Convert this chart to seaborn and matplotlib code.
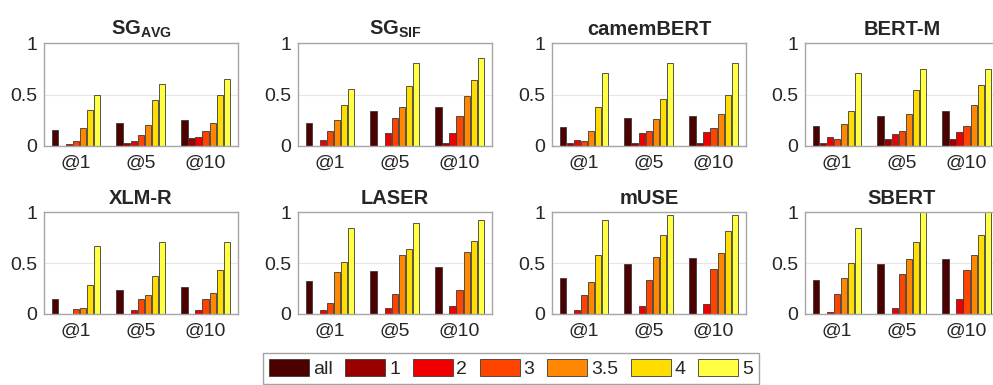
import matplotlib
matplotlib.use("Agg")
import matplotlib.pyplot as plt
import seaborn as sns
import pandas as pd
import numpy as np
from matplotlib.patches import Patch

# ---------------- data ----------------
ks = ["@1", "@5", "@10"]
cats = ["all", "1", "2", "3", "3.5", "4", "5"]
colors = ["#4c0000", "#990000", "#ee0000", "#ff4400", "#ff8800", "#ffdd00", "#ffff44"]
titles = [r"$\mathbf{SG}_{\mathbf{AVG}}$", r"$\mathbf{SG}_{\mathbf{SIF}}$", "camemBERT", "BERT-M",
          "XLM-R", "LASER", "mUSE", "SBERT"]

# values per model: rows = @1, @5, @10 ; columns = all,1,2,3,3.5,4,5
sg_avg = [[0.16, 0.00, 0.02, 0.05, 0.17, 0.35, 0.50],
          [0.22, 0.03, 0.045, 0.11, 0.20, 0.45, 0.60],
          [0.25, 0.075, 0.09, 0.15, 0.22, 0.50, 0.655]]
sg_sif = [[0.22, 0.00, 0.06, 0.15, 0.25, 0.40, 0.55],
          [0.34, 0.00, 0.13, 0.27, 0.38, 0.58, 0.81],
          [0.38, 0.03, 0.13, 0.29, 0.49, 0.64, 0.85]]
camembert = [[0.18, 0.03, 0.06, 0.05, 0.15, 0.38, 0.71],
             [0.27, 0.03, 0.13, 0.15, 0.26, 0.46, 0.81],
             [0.29, 0.03, 0.14, 0.17, 0.31, 0.50, 0.81]]
bert_m = [[0.19, 0.03, 0.085, 0.065, 0.21, 0.34, 0.71],
          [0.29, 0.07, 0.12, 0.15, 0.31, 0.54, 0.75],
          [0.34, 0.07, 0.14, 0.19, 0.40, 0.59, 0.75]]
xlm_r = [[0.15, 0.00, 0.00, 0.05, 0.06, 0.28, 0.67],
         [0.24, 0.00, 0.04, 0.15, 0.19, 0.37, 0.71],
         [0.26, 0.00, 0.04, 0.15, 0.21, 0.43, 0.71]]
laser = [[0.32, 0.00, 0.04, 0.11, 0.41, 0.51, 0.84],
         [0.42, 0.00, 0.06, 0.20, 0.58, 0.64, 0.89],
         [0.46, 0.00, 0.08, 0.24, 0.61, 0.72, 0.925]]
muse = [[0.35, 0.00, 0.04, 0.19, 0.31, 0.58, 0.925],
        [0.49, 0.00, 0.08, 0.33, 0.555, 0.77, 0.97],
        [0.545, 0.00, 0.10, 0.44, 0.60, 0.81, 0.97]]
sbert = [[0.33, 0.00, 0.02, 0.20, 0.35, 0.50, 0.84],
         [0.49, 0.00, 0.06, 0.39, 0.535, 0.71, 1.00],
         [0.54, 0.00, 0.145, 0.43, 0.58, 0.77, 1.00]]
models = [sg_avg, sg_sif, camembert, bert_m, xlm_r, laser, muse, sbert]

# ---------------- style ----------------
sns.set_style("white")
plt.rcParams["font.family"] = ["Liberation Sans", "DejaVu Sans"]
plt.rcParams["mathtext.fontset"] = "custom"
plt.rcParams["mathtext.rm"] = "Liberation Sans"
plt.rcParams["mathtext.bf"] = "Liberation Sans:bold"
plt.rcParams["mathtext.it"] = "Liberation Sans:italic"

W, H = 993, 385
fig = plt.figure(figsize=(W / 100, H / 100), dpi=100)

lefts = [44, 298, 552, 805]
rows = [(43, 146), (212, 314)]
aw = 194

palette = dict(zip(cats, colors))
for i, (vals, title) in enumerate(zip(models, titles)):
    r, c = divmod(i, 4)
    top, bot = rows[r]
    ax = fig.add_axes([lefts[c] / W, 1 - bot / H, aw / W, (bot - top) / H])
    recs = []
    for ki, k in enumerate(ks):
        for ci, cat in enumerate(cats):
            recs.append({"k": k, "c": cat, "v": vals[ki][ci]})
    df = pd.DataFrame(recs)
    ax.grid(True, color="#e6e6e6", linewidth=0.8)
    ax.set_axisbelow(True)
    sns.barplot(data=df, x="k", y="v", hue="c", hue_order=cats, order=ks,
                palette=palette, width=0.76, gap=0.12, edgecolor="#3a3a3a",
                linewidth=0.6, saturation=1, ax=ax, legend=False)
    ax.set_xlim(-0.49, 2.5)
    ax.set_ylim(0, 1)
    ax.set_yticks([0, 0.5, 1])
    ax.set_yticklabels(["0", "0.5", "1"])
    ax.set_xlabel("")
    ax.set_ylabel("")
    ax.tick_params(axis="both", labelsize=14, colors="#262626", length=0, pad=5)
    ax.tick_params(axis="x", pad=6)
    for s in ax.spines.values():
        s.set_visible(True)
        s.set_color("#a6a6a6")
        s.set_linewidth(1.0)
    ax.set_title(title, fontsize=14.5, fontweight="bold", pad=6)

handles = [Patch(facecolor=col, edgecolor="#3a3a3a", linewidth=0.6) for col in colors]
leg = fig.legend(handles, cats, ncol=7, loc="center", bbox_to_anchor=(511 / W, 1 - 368.5 / H),
                 fontsize=14, frameon=True, fancybox=False, handlelength=2.05, handleheight=0.95,
                 handletextpad=0.2, columnspacing=0.65, borderpad=0.3, borderaxespad=0)
leg.get_frame().set_edgecolor("#8c8c8c")
leg.get_frame().set_linewidth(1.0)

fig.savefig("out.png", dpi=100)
